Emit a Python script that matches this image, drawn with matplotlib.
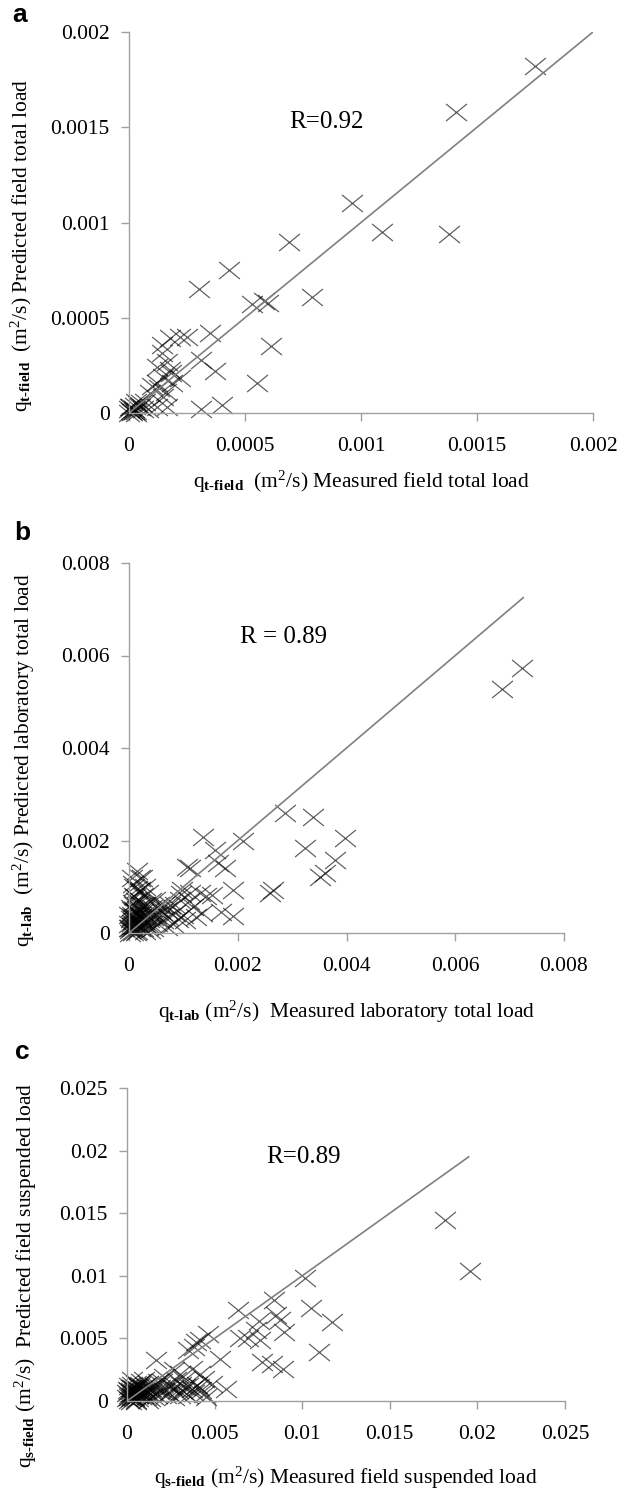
import numpy as np
import matplotlib
matplotlib.use("Agg")
import matplotlib.pyplot as plt
from matplotlib.ticker import FuncFormatter
from matplotlib.path import Path

plt.rcParams['font.family'] = ['Liberation Serif', 'DejaVu Serif']
plt.rcParams['mathtext.fontset'] = 'custom'
plt.rcParams['mathtext.rm'] = 'Liberation Serif'
plt.rcParams['mathtext.it'] = 'Liberation Serif:italic'
plt.rcParams['mathtext.bf'] = 'Liberation Serif:bold'

# panel a: field total load
a_meas = [0.00175, 0.00141, 0.00096, 0.00109, 0.00138, 0.00069, 0.00043, 0.00030,
          0.00079, 0.00053, 0.00058, 0.00060, 0.00061, 0.00035, 0.00055, 0.00037,
          0.00031, 0.00031, 0.00040,
          0.000141, 0.000177, 0.00022, 0.000249, 0.000141, 0.000162, 0.000177,
          0.000148, 0.00022, 0.000119, 0.000184, 0.00009, 0.000148, 0.000162,
          0.000119, 0.000069, 0.000047, 0.00013, 0.0001, 0.00012, 0.00018, 0.00016,
          0.00001, 0.00002, 0.000005, 0.00003, 0.000015, 0.00004, 0.000025, 0.0,
          0.00006, 0.0, 0.00001, 0.00003, 0.00002, 0.00005, 0.00008, 0.00003]
a_pred = [0.00182, 0.00158, 0.00110, 0.00095, 0.00094, 0.00090, 0.00075, 0.00065,
          0.00061, 0.00057, 0.00059, 0.00058, 0.00035, 0.00042, 0.00016, 0.00022,
          0.00028, 0.00002, 0.00004,
          0.000357, 0.000394, 0.000399, 0.0004, 0.000315, 0.000269, 0.000226,
          0.00019, 0.000182, 0.000157, 0.000156, 0.000103, 0.000086, 0.000033,
          0.000033, 0.00006, 0.000033, 0.00013, 0.00014, 0.00024, 0.00021, 0.00011,
          0.00001, 0.00002, 0.00003, 0.00001, 0.000005, 0.000045, 0.000035, 0.00002,
          0.00002, 0.0, 0.00003, 0.0, 0.00001, 0.00005, 0.00002, 0.00006]

# panel b: laboratory total load
b_meas = [0.00723, 0.00686, 0.00287, 0.00339, 0.00397, 0.00324, 0.0021, 0.00137,
          0.00158, 0.00164, 0.00177, 0.00106, 0.00112, 0.00192, 0.00259, 0.00265,
          0.0017, 0.00192, 0.00351, 0.0036, 0.00379, 0.00152, 0.00131, 0.00112,
          0.00094, 0.00118, 0.00134, 0.00124, 0.00103, 0.00085, 0.00075, 0.00063,
          0.00098, 0.00142,
          0.00014, 0.00023, 0.00008, 0.0002, 0.00035, 0.00011, 0.00048, 0.00026,
          0.00057, 0.00039, 0.00014, 0.00069, 0.00051, 0.00026, 0.00005, 0.0002,
          0.00002, 0.00039, 0.00008,
          0.00005, 0.0001, 0.00015, 0.0002, 0.00025, 0.0003, 0.0001, 0.00015,
          0.00005, 0.0, 0.0003, 0.00035, 0.0001, 0.00015, 0.00025, 0.0003, 0.00005,
          0.0, 0.00012, 0.00018, 0.0003, 0.00045, 0.00055, 0.00042, 0.0006, 0.00072,
          0.0008, 0.00065, 0.00018, 0.0003, 0.00025, 0.0004, 0.0001,
          0.00002, 0.00005, 0.00008, 0.0001, 0.00012, 0.00003, 0.00006, 0.00009,
          0.00015, 0.00018, 0.0002, 0.00022, 0.00012, 0.00004, 0.00007, 0.00016,
          0.00028, 0.00024, 0.0001, 0.00015, 0.00005, 0.0002, 0.0, 0.00001, 0.00012,
          0.00032, 0.00036, 0.0004, 0.00045, 0.0005, 0.00055, 0.0007, 0.00085,
          0.0009, 0.001, 0.0011, 0.00095]
b_pred = [0.00573, 0.00528, 0.00259, 0.00251, 0.00205, 0.00183, 0.00198, 0.00208,
          0.00179, 0.00151, 0.0014, 0.00143, 0.0014, 0.00093, 0.00086, 0.00093,
          0.00046, 0.00037, 0.00122, 0.00129, 0.00158, 0.00082, 0.00086, 0.00086,
          0.00071, 0.00057, 0.00043, 0.00035, 0.00028, 0.00043, 0.00061, 0.00028,
          0.00094, 0.00079,
          0.00133, 0.00118, 0.00107, 0.00093, 0.00086, 0.00078, 0.00071, 0.00061,
          0.0005, 0.00043, 0.00043, 0.00014, 0.00021, 0.00028, 0.00021, 0.0001,
          0.00006, 0.00006, 0.00002,
          0.0005, 0.0006, 0.00052, 0.0004, 0.00045, 0.00035, 0.0003, 0.00025,
          0.00035, 0.0004, 0.0002, 0.00015, 0.00015, 0.00005, 0.0001, 0.00005, 0.0001,
          0.0002, 0.0007, 0.00065, 0.0006, 0.00035, 0.0003, 0.00055, 0.00045, 0.00035,
          0.0002, 0.0006, 0.0009, 0.001, 0.0008, 0.0007, 0.001,
          0.0001, 0.00015, 0.00025, 0.00035, 0.00045, 0.0003, 0.0004, 0.0005,
          0.0003, 0.0002, 0.00015, 0.00035, 0.00018, 0.00055, 0.00065, 0.0004,
          0.00025, 0.00055, 0.0008, 0.00095, 0.0012, 0.0012, 0.0001, 0.0, 0.00003,
          0.0004, 0.0003, 0.0002, 0.0001, 0.0004, 0.0006, 0.0005, 0.0006,
          0.0003, 0.0004, 0.0007, 0.00085]

# panel c: field suspended load
c_meas = [0.01813, 0.01957, 0.01014, 0.0105, 0.01169, 0.01094, 0.00838, 0.00849,
          0.00872, 0.00895, 0.00632, 0.00753, 0.00735, 0.0069, 0.00758, 0.00644,
          0.00769, 0.00826, 0.00888, 0.0053, 0.00564, 0.00461, 0.00416, 0.00393,
          0.00381, 0.00347, 0.00164, 0.00267, 0.00301, 0.0037, 0.00416, 0.00438,
          0.00484, 0.00324, 0.0021, 0.00233, 0.0029, 0.0037, 0.00438, 0.00347,
          0.00176, 0.00142, 0.00096, 0.00027, 0.00005, 0.0005, 0.00084, 0.00027,
          0.00062, 0.00107, 0.00039, 0.00073, 0.00119, 0.0005,
          0.0001, 0.0002, 0.0003, 0.0004, 0.0006, 0.0008, 0.0001, 0.0002, 0.0,
          0.0007, 0.0009, 0.0012, 0.0015, 0.0018, 0.0022, 0.0025, 0.0027, 0.0032,
          0.0035, 0.004, 0.0042, 0.0045, 0.0013, 0.0003, 0.0005, 0.0006, 0.0001,
          0.001, 0.0016, 0.002, 0.0028, 0.0031,
          0.0001, 0.0002, 0.0003, 0.0004, 0.0005, 0.0006, 0.0007, 0.0008, 0.0009,
          0.0002, 0.0001, 0.0003, 0.0004, 0.0006, 0.0008, 0.001, 0.0011, 0.0013,
          0.0014, 0.0017, 0.0019, 0.0021, 0.0024, 0.0026, 0.003, 0.0033, 0.0038,
          0.0041, 0.0002, 0.0, 0.0005, 0.0012]
c_pred = [0.01446, 0.01038, 0.00985, 0.00739, 0.00632, 0.00392, 0.00806, 0.00686,
          0.00646, 0.00552, 0.00726, 0.0064, 0.00566, 0.005, 0.00486, 0.005,
          0.00312, 0.00299, 0.00259, 0.00339, 0.00099, 0.00539, 0.00486, 0.00472,
          0.00432, 0.00406, 0.00326, 0.00245, 0.00219, 0.00259, 0.00219, 0.00179,
          0.00139, 0.00165, 0.00192, 0.00125, 0.00085, 0.00099, 0.00059, 0.00045,
          0.00152, 0.00099, 0.00165, 0.00165, 0.00085, 0.00139, 0.00072, 0.00032,
          0.00045, 0.00032, 0.00099, 0.00125, 0.00139, 0.00005,
          0.0005, 0.0008, 0.0006, 0.0003, 0.0009, 0.0004, 0.0012, 0.0002, 0.0006,
          0.0007, 0.001, 0.0006, 0.0004, 0.0008, 0.0005, 0.0012, 0.0003, 0.0008,
          0.0012, 0.0013, 0.0009, 0.0003, 0.0002, 0.001, 0.0007, 0.0002, 0.0001,
          0.0012, 0.0012, 0.0015, 0.0017, 0.0013,
          0.0008, 0.001, 0.0004, 0.0007, 0.001, 0.0005, 0.0011, 0.0008, 0.0005,
          0.0006, 0.0003, 0.0013, 0.0002, 0.0013, 0.0015, 0.0007, 0.0009, 0.001,
          0.0007, 0.0005, 0.001, 0.0008, 0.0006, 0.001, 0.0005, 0.0011, 0.0006,
          0.0011, 0.0, 0.0002, 0.0, 0.0001]

panels = [
    dict(letter='a', x=a_meas, y=a_pred, lim=0.002, step=0.0005, line_end=0.002,
         r_text='R=0.92', r_pos=(0.00085, 0.00153),
         xlabel=r'q$_{\mathbf{t\text{-}field}}$  (m$^{2}$/s) Measured field total load',
         ylabel=r'q$_{\mathbf{t\text{-}field}}$  (m$^{2}$/s) Predicted field total load',
         box=(129, 32, 593, 413), xl_y=482, yl=(22, 245), let=(20, 15)),
    dict(letter='b', x=b_meas, y=b_pred, lim=0.008, step=0.002, line_end=0.00725,
         r_text='R = 0.89', r_pos=(0.00285, 0.0064),
         xlabel=r'q$_{\mathbf{t\text{-}lab}}$ (m$^{2}$/s)  Measured laboratory total load',
         ylabel=r'q$_{\mathbf{t\text{-}lab}}$  (m$^{2}$/s) Predicted laboratory total load',
         box=(129, 563, 564, 933), xl_y=1012, yl=(24, 760), let=(22, 533)),
    dict(letter='c', x=c_meas, y=c_pred, lim=0.025, step=0.005, line_end=0.0195,
         r_text='R=0.89', r_pos=(0.0101, 0.0195),
         xlabel=r'q$_{\mathbf{s\text{-}field}}$ (m$^{2}$/s) Measured field suspended load',
         ylabel=r'q$_{\mathbf{s\text{-}field}}$ (m$^{2}$/s)  Predicted field suspended load',
         box=(127, 1088, 565, 1401), xl_y=1478, yl=(26, 1275), let=(22, 1052)),
]

# slightly wide cross, like the stretched original
cross = Path([(-1.0, -0.82), (1.0, 0.82), (-1.0, 0.82), (1.0, -0.82)],
             [Path.MOVETO, Path.LINETO, Path.MOVETO, Path.LINETO])

W, H = 627, 1491
fig = plt.figure(figsize=(W / 100, H / 100), dpi=100)
fmt = FuncFormatter(lambda v, p: '%g' % round(v, 6))

for p in panels:
    x0, y0, x1, y1 = p['box']
    ax = fig.add_axes([x0 / W, 1 - y1 / H, (x1 - x0) / W, (y1 - y0) / H])
    ax.plot(p['x'], p['y'], linestyle='none', marker=cross, markersize=15,
            markeredgewidth=0.9, color='black', alpha=0.62, fillstyle='none',
            clip_on=False)
    ax.plot([0, p['line_end']], [0, p['line_end']], color='#808080', lw=1.2)
    ax.set_xlim(0, p['lim'])
    ax.set_ylim(0, p['lim'])
    ticks = np.arange(0, p['lim'] + p['step'] / 2, p['step'])
    ax.set_xticks(ticks)
    ax.set_yticks(ticks)
    ax.xaxis.set_major_formatter(fmt)
    ax.yaxis.set_major_formatter(fmt)
    for s in ['top', 'right']:
        ax.spines[s].set_visible(False)
    for s in ['left', 'bottom']:
        ax.spines[s].set_color('#a0a0a0')
        ax.spines[s].set_linewidth(1.0)
    ax.tick_params(direction='out', length=6, width=1, color='#a0a0a0',
                   labelsize=15.5)
    ax.tick_params(axis='x', pad=11)
    ax.tick_params(axis='y', pad=8)
    ax.text(*p['r_pos'], p['r_text'], fontsize=18, ha='center', va='center')
    fig.text((x0 + x1) / 2 / W, 1 - p['xl_y'] / H, p['xlabel'], fontsize=15.5,
             ha='center', va='center')
    fig.text(p['yl'][0] / W, 1 - p['yl'][1] / H, p['ylabel'], fontsize=15.5,
             ha='center', va='center', rotation=90)
    fig.text(p['let'][0] / W, 1 - p['let'][1] / H, p['letter'], fontsize=19,
             fontweight='bold', family='Liberation Sans', ha='center', va='center')

fig.savefig('out.png', dpi=100)
